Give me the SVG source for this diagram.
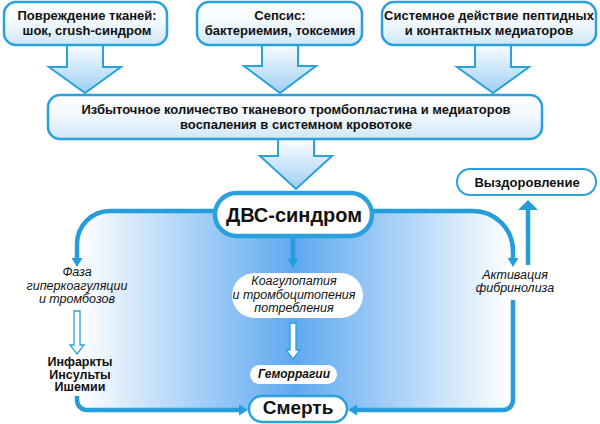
<svg xmlns="http://www.w3.org/2000/svg" width="600" height="424" viewBox="0 0 600 424">
<defs>
<linearGradient id="boxGrad" x1="0" y1="0" x2="0" y2="1">
<stop offset="0" stop-color="#ffffff"/>
<stop offset="0.45" stop-color="#f3f9fd"/>
<stop offset="1" stop-color="#cfe7f8"/>
</linearGradient>
<linearGradient id="arrowGrad" x1="0" y1="0" x2="0" y2="1">
<stop offset="0" stop-color="#ffffff"/>
<stop offset="1" stop-color="#9dcff4"/>
</linearGradient>
<linearGradient id="loopGrad" gradientUnits="userSpaceOnUse" x1="77" y1="0" x2="513" y2="0">
<stop offset="0" stop-color="#ffffff"/>
<stop offset="0.5" stop-color="#5fa9f0"/>
<stop offset="1" stop-color="#ffffff"/>
</linearGradient>
<marker id="ah" viewBox="0 0 9 11" refX="1" refY="5.5" markerWidth="9" markerHeight="11" markerUnits="userSpaceOnUse" orient="auto">
<path d="M0,0 L9,5.5 L0,11 Z" fill="#259ddb"/>
</marker>
<marker id="ahBig" viewBox="0 0 10 20" refX="1" refY="10" markerWidth="10" markerHeight="20" markerUnits="userSpaceOnUse" orient="auto">
<path d="M0,0 L10,10 L0,20 Z" fill="#259ddb"/>
</marker>
</defs>
<style>
.box{fill:url(#boxGrad);stroke:#2aa0dc;stroke-width:2.5}
.barrow{fill:url(#arrowGrad);stroke:#2aa0dc;stroke-width:2;stroke-linejoin:miter}
.hollow{fill:#ffffff;stroke:#2aa0dc;stroke-width:1.3}
.line{fill:none;stroke:#259ddb;stroke-width:4.5}
.pill{fill:#ffffff;stroke:#2aa0dc;stroke-width:2.5}
.wpill{fill:#ffffff;stroke:none}
text{font-family:"Liberation Sans",Arial,sans-serif;fill:#111111;text-anchor:middle}
.bx{font-size:13px;font-weight:bold}
.b13{font-size:12.5px;font-weight:bold}
.i12{font-size:12.5px;font-style:italic}
.bi12{font-size:12px;font-style:italic;font-weight:bold}
</style>

<!-- gradient background inside loop -->
<path id="loopBg" d="M110 211 H473 A40 40 0 0 1 513 251 V400 A10 10 0 0 1 503 410 H87 A10 10 0 0 1 77 400 V244 A33 33 0 0 1 110 211 Z" fill="url(#loopGrad)"/>

<g id="connectors">
<path class="barrow" d="M67 42 H103 V67 H121 L85 93 L49 67 H67 Z"/>
<path class="barrow" d="M262 42 H298 V66 H316 L280 93 L244 66 H262 Z"/>
<path class="barrow" d="M475 42 H511 V67 H529 L493 93 L457 67 H475 Z"/>
<path class="barrow" d="M278 138 H314 V156 H332 L296 189 L260 156 H278 Z"/>
<path class="line" d="M214 211 H110 A33 33 0 0 0 77 244 V259" marker-end="url(#ah)"/>
<path class="line" d="M372 211 H473 A40 40 0 0 1 513 251 V259" marker-end="url(#ah)"/>
<path class="line" d="M513 300 V400 A10 10 0 0 1 503 410 H356" marker-end="url(#ah)"/>
<path class="line" d="M77 396 V400 A10 10 0 0 0 87 410 H240" marker-end="url(#ah)"/>
<path class="line" d="M293 238 V260" marker-end="url(#ah)"/>
<path class="line" d="M528 265 V209" marker-end="url(#ahBig)"/>
<path class="hollow" d="M74 311 H80 V345 H84 L77 354 L70 345 H74 Z"/>
<path class="hollow" d="M290 323 H296 V350 H300 L293 359 L286 350 H290 Z"/>
</g>

<g id="n1">
<rect class="box" x="4" y="2" width="163" height="43" rx="12"/>
<text class="bx" x="87" y="20">Повреждение тканей:</text>
<text class="bx" x="87" y="35">шок, crush-синдром</text>
</g>
<g id="n2">
<rect class="box" x="197" y="2" width="165" height="43" rx="12"/>
<text class="bx" x="280" y="20">Сепсис:</text>
<text class="bx" x="280" y="35">бактериемия, токсемия</text>
</g>
<g id="n3">
<rect class="box" x="382" y="2" width="214" height="43" rx="12"/>
<text class="bx" x="489" y="20">Системное действие пептидных</text>
<text class="bx" x="489" y="35">и контактных медиаторов</text>
</g>
<g id="n4">
<rect class="box" x="48" y="95" width="494" height="44" rx="12"/>
<text class="bx" x="296" y="114">Избыточное количество тканевого тромбопластина и медиаторов</text>
<text class="bx" x="296" y="129">воспаления в системном кровотоке</text>
</g>
<g id="n5">
<rect class="pill" x="215" y="193" width="157" height="43" rx="21.5" style="stroke-width:4.5"/>
<text x="294" y="222" style="font-size:20px;font-weight:bold">ДВС-синдром</text>
</g>
<g id="n6">
<rect class="pill" x="457" y="169" width="139" height="26" rx="13" style="stroke-width:2"/>
<text class="bx" x="527" y="187">Выздоровление</text>
</g>
<g id="n7">
<text class="i12" x="77" y="276">Фаза</text>
<text class="i12" x="77" y="290">гиперкоагуляции</text>
<text class="i12" x="77" y="303">и тромбозов</text>
</g>
<g id="n8">
<rect class="wpill" x="232" y="273" width="131" height="45" rx="22.5"/>
<text class="i12" x="294" y="285">Коагулопатия</text>
<text class="i12" x="294" y="299">и тромбоцитопения</text>
<text class="i12" x="294" y="312">потребления</text>
</g>
<g id="n9">
<text class="i12" x="515" y="279">Активация</text>
<text class="i12" x="515" y="292">фибринолиза</text>
</g>
<g id="n10">
<text class="b13" x="80" y="366">Инфаркты</text>
<text class="b13" x="80" y="378.5">Инсульты</text>
<text class="b13" x="80" y="391">Ишемии</text>
</g>
<g id="n11">
<rect class="wpill" x="250" y="365" width="87" height="19" rx="9.5"/>
<text class="bi12" x="294" y="378">Геморрагии</text>
</g>
<g id="n12">
<rect class="pill" x="249" y="396" width="98" height="26" rx="13"/>
<text x="298" y="414" style="font-size:19px;font-weight:bold">Смерть</text>
</g>
</svg>
